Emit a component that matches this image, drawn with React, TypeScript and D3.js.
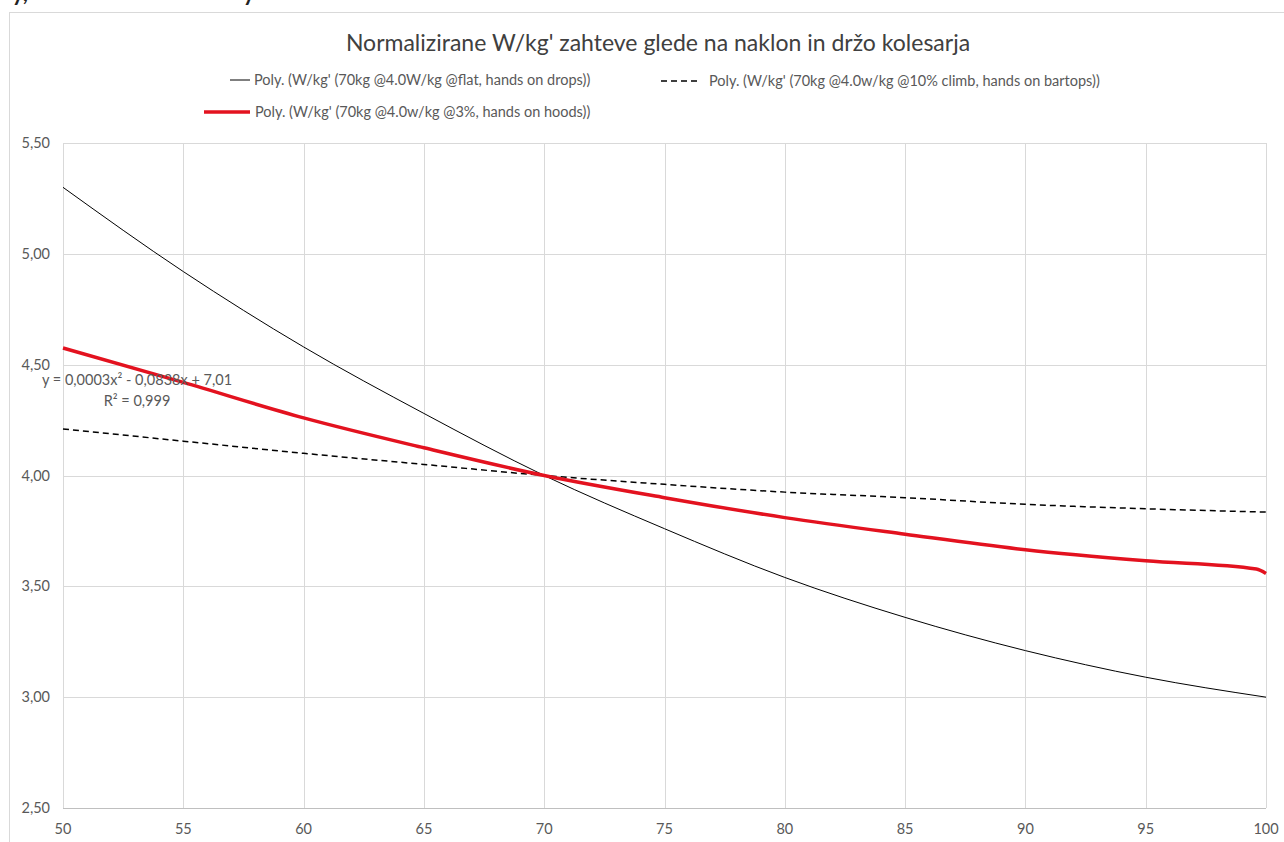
import React from "react";
import * as d3 from "d3";

// x values (shared)
const xValues = [50, 55, 60, 65, 70, 75, 80, 85, 90, 95, 100];
const flatDrops = [5.3, 4.92, 4.58, 4.28, 4.0, 3.76, 3.54, 3.36, 3.21, 3.09, 3.0];
const climbBartops = [4.21, 4.155, 4.1, 4.05, 4.0, 3.96, 3.925, 3.9, 3.87, 3.85, 3.835];
const hoodsX = [50, 55, 60, 65, 70, 75, 80, 85, 90, 95, 99.6, 100];
const hoodsY = [4.575, 4.42, 4.26, 4.125, 4.0, 3.9, 3.81, 3.735, 3.665, 3.615, 3.578, 3.558];

const xTicks = [50, 55, 60, 65, 70, 75, 80, 85, 90, 95, 100];
const yTicks = [2.5, 3.0, 3.5, 4.0, 4.5, 5.0, 5.5];

const title = "Normalizirane W/kg' zahteve glede na naklon in držo kolesarja";
const legendLabels = [
  "Poly. (W/kg' (70kg @4.0W/kg @flat, hands on drops))",
  "Poly. (W/kg' (70kg @4.0w/kg @10% climb, hands on bartops))",
  "Poly. (W/kg' (70kg @4.0w/kg @3%, hands on hoods))",
];
const equation = ["y = 0,0003x² - 0,0838x + 7,01", "R² = 0,999"];

const W = 1284;
const H = 842;
const font = "Lato, 'Open Sans', sans-serif";
const grey = "#595959";
const red = "#e3121f";

const App = () => {
  const x = d3.scaleLinear().domain([50, 100]).range([63, 1266]);
  const y = d3.scaleLinear().domain([2.5, 5.5]).range([808, 143]);
  const fmt = (v: number) => d3.format(".2f")(v).replace(".", ",");

  const smooth = d3
    .line<[number, number]>()
    .x(d => x(d[0]))
    .y(d => y(d[1]))
    .curve(d3.curveMonotoneX);

  const flatPts = xValues.map((v, i) => [v, flatDrops[i]] as [number, number]);
  const climbPts = xValues.map((v, i) => [v, climbBartops[i]] as [number, number]);
  const hoodPts = hoodsX.map((v, i) => [v, hoodsY[i]] as [number, number]);

  return (
    <div style={{ position: "absolute", left: 0, top: 0 }}>
      <svg width={W} height={H} style={{ display: "block", background: "#fff" }}>
        {/* cut-off caption above the chart */}
        <text x={12} y={1} fontFamily={font} fontSize={22} fontWeight="bold" fill="#222">
          y,
        </text>
        <text x={243} y={1} fontFamily={font} fontSize={22} fontWeight="bold" fill="#222">
          y
        </text>

        {/* chart frame */}
        <rect x={9.5} y={12.5} width={W + 10} height={H + 10} fill="#fff" stroke="#d9d9d9" />

        <text x={658} y={51} textAnchor="middle" fontFamily={font} fontSize={23} fill="#404040">
          {title}
        </text>

        {/* legend */}
        <g fontFamily={font} fontSize={14.5} fill={grey}>
          <line x1={230} x2={250} y1={80} y2={80} stroke="#000" strokeWidth={1} />
          <text x={254} y={85}>{legendLabels[0]}</text>
          <line x1={661} x2={700} y1={81} y2={81} stroke="#000" strokeWidth={1.5} strokeDasharray="6,4" />
          <text x={709} y={86}>{legendLabels[1]}</text>
          <line x1={204} x2={250} y1={112} y2={112} stroke={red} strokeWidth={3.5} />
          <text x={255} y={117}>{legendLabels[2]}</text>
        </g>

        {/* grid */}
        <g stroke="#d9d9d9" strokeWidth={1}>
          {yTicks.map(t => (
            <line key={"y" + t} x1={63} x2={1266} y1={Math.round(y(t)) + 0.5} y2={Math.round(y(t)) + 0.5} />
          ))}
          {xTicks.map(t => (
            <line key={"x" + t} x1={Math.round(x(t)) + 0.5} x2={Math.round(x(t)) + 0.5} y1={143} y2={808} />
          ))}
        </g>
        <line x1={63} x2={1266} y1={808.5} y2={808.5} stroke="#bfbfbf" />

        {/* axis labels */}
        <g fontFamily={font} fontSize={14.5} fill={grey}>
          {yTicks.map(t => (
            <text key={"yl" + t} x={50} y={y(t) + 5} textAnchor="end">
              {fmt(t)}
            </text>
          ))}
          {xTicks.map(t => (
            <text key={"xl" + t} x={x(t)} y={834} textAnchor="middle">
              {t}
            </text>
          ))}
        </g>

        {/* series */}
        <path d={smooth(flatPts) || ""} fill="none" stroke="#000" strokeWidth={1} />
        <path d={smooth(climbPts) || ""} fill="none" stroke="#000" strokeWidth={1.5} strokeDasharray="6,4" />
        <path d={smooth(hoodPts) || ""} fill="none" stroke={red} strokeWidth={3.5} strokeLinejoin="round" />

        {/* trendline equation */}
        <g fontFamily={font} fontSize={14.5} fill={grey} textAnchor="middle">
          <text x={137} y={385}>{equation[0]}</text>
          <text x={137} y={406}>{equation[1]}</text>
        </g>
      </svg>
    </div>
  );
};

export default App;
